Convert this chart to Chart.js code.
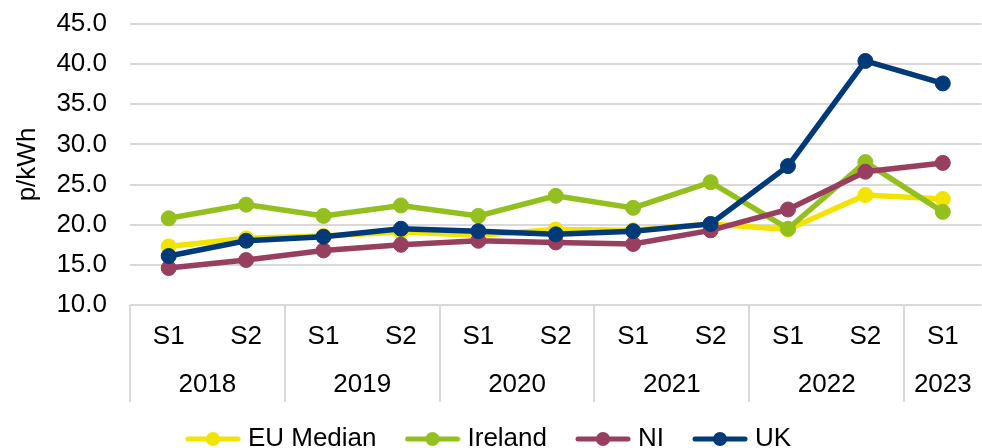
<!DOCTYPE html>
<html>
<head>
<meta charset="utf-8">
<script src="https://cdn.jsdelivr.net/npm/chart.js@4/dist/chart.umd.min.js"></script>
<style>
  html, body { margin: 0; padding: 0; background: #fff; overflow: hidden; }
  #wrap { width: 990px; height: 448px; }
</style>
</head>
<body>
<div id="wrap"><canvas id="c" width="990" height="448"></canvas></div>
<script>
const periods = ["S1", "S2", "S1", "S2", "S1", "S2", "S1", "S2", "S1", "S2", "S1"];
const years = ["2018", "2019", "2020", "2021", "2022", "2023"];
const yearSpans = [2, 2, 2, 2, 2, 1];
const yTicks = [10, 15, 20, 25, 30, 35, 40, 45];
const seriesNames = ["EU Median", "Ireland", "NI", "UK"];
const euMedian = [17.3, 18.3, 18.6, 19.1, 18.7, 19.4, 19.3, 20.1, 19.4, 23.7, 23.2];
const ireland  = [20.8, 22.5, 21.1, 22.4, 21.1, 23.6, 22.1, 25.3, 19.5, 27.8, 21.6];
const ni       = [14.6, 15.6, 16.8, 17.5, 18.0, 17.8, 17.6, 19.3, 21.9, 26.6, 27.7];
const uk       = [16.1, 18.0, 18.5, 19.5, 19.2, 18.8, 19.2, 20.1, 27.3, 40.4, 37.6];
const yTitle = "p/kWh";

const colors = ["#F2E400", "#93C01F", "#983F5F", "#003A78"];
const FONT = "'Liberation Sans', Arial, sans-serif";
const GRID = "#D9D9D9";

function legendMarker(color) {
  const cv = document.createElement('canvas');
  cv.width = 56; cv.height = 16;
  const g = cv.getContext('2d');
  g.strokeStyle = color; g.lineWidth = 5; g.lineCap = 'round';
  g.beginPath(); g.moveTo(3, 8); g.lineTo(53, 8); g.stroke();
  g.fillStyle = color;
  g.beginPath(); g.arc(28, 8, 7, 0, Math.PI * 2); g.fill();
  return cv;
}

const allData = [euMedian, ireland, ni, uk];
const datasets = allData.map((d, i) => ({
  label: seriesNames[i],
  data: d,
  borderColor: colors[i],
  backgroundColor: colors[i],
  pointBackgroundColor: colors[i],
  pointBorderColor: colors[i],
  pointBorderWidth: 1,
  pointRadius: 7.5,
  borderWidth: 5.5,
  tension: 0,
  fill: false,
  order: 4 - i,
  pointStyle: 'circle'
}));

const yearPlugin = {
  id: 'yearPlugin',
  afterLayout(chart) {
    if (chart.legend) {
      chart.legend.top += 14;
      chart.legend.bottom += 14;
      chart.legend.right -= 6;
    }
  },
  afterDraw(chart) {
    const xs = chart.scales.x;
    const ctx = chart.ctx;
    const bottom = chart.chartArea.bottom;
    const half = (xs.getPixelForValue(1) - xs.getPixelForValue(0)) / 2;
    ctx.save();
    ctx.strokeStyle = GRID;
    ctx.lineWidth = 2;
    ctx.fillStyle = '#000';
    ctx.font = "26px " + FONT;
    ctx.textAlign = 'center';
    ctx.textBaseline = 'middle';
    let idx = 0;
    years.forEach((yr, k) => {
      const n = yearSpans[k];
      const x0 = xs.getPixelForValue(idx) - half;
      ctx.beginPath();
      ctx.moveTo(Math.round(x0), bottom);
      ctx.lineTo(Math.round(x0), bottom + 97);
      ctx.stroke();
      const cx = (xs.getPixelForValue(idx) + xs.getPixelForValue(idx + n - 1)) / 2;
      ctx.fillText(yr, cx, bottom + 80);
      idx += n;
    });
    ctx.restore();
  }
};

new Chart(document.getElementById('c'), {
  type: 'line',
  data: { labels: periods, datasets },
  options: {
    responsive: false,
    animation: false,
    layout: { padding: { top: 24, right: 2, left: 0, bottom: 0 } },
    plugins: {
      tooltip: { enabled: false },
      legend: {
        position: 'bottom',
        labels: {
          usePointStyle: true,
          pointStyleWidth: 44,
          padding: 34,
          color: '#000',
          font: { family: FONT, size: 26 },
          sort: (a, b) => a.datasetIndex - b.datasetIndex,
          generateLabels(chart) {
            return chart.data.datasets.map((ds, i) => ({
              text: ds.label,
              fillStyle: ds.borderColor,
              strokeStyle: ds.borderColor,
              lineWidth: 0,
              pointStyle: legendMarker(ds.borderColor),
              datasetIndex: i,
              hidden: false,
              fontColor: '#000'
            }));
          }
        }
      }
    },
    scales: {
      x: {
        offset: true,
        grid: { display: false, drawTicks: false },
        border: { display: false },
        ticks: { color: '#000', font: { family: FONT, size: 26 }, padding: 16, maxRotation: 0, autoSkip: false },
        afterFit(scale) { scale.height = 73; }
      },
      y: {
        min: 10, max: 45,
        afterBuildTicks(scale) { scale.ticks = yTicks.map(v => ({ value: v })); },
        grid: { color: GRID, lineWidth: 2, drawTicks: false },
        border: { display: false },
        ticks: {
          color: '#000',
          font: { family: FONT, size: 26 },
          padding: 23,
          callback: v => Number(v).toFixed(1)
        },
        title: {
          display: true,
          text: yTitle,
          color: '#000',
          font: { family: FONT, size: 26 },
          padding: { top: 12, bottom: 0 }
        },
        afterFit(scale) {
          scale.width = 130;
          scale.paddingTop = 0;
          scale.paddingBottom = 0;
        }
      }
    }
  },
  plugins: [yearPlugin]
});
</script>
</body>
</html>
